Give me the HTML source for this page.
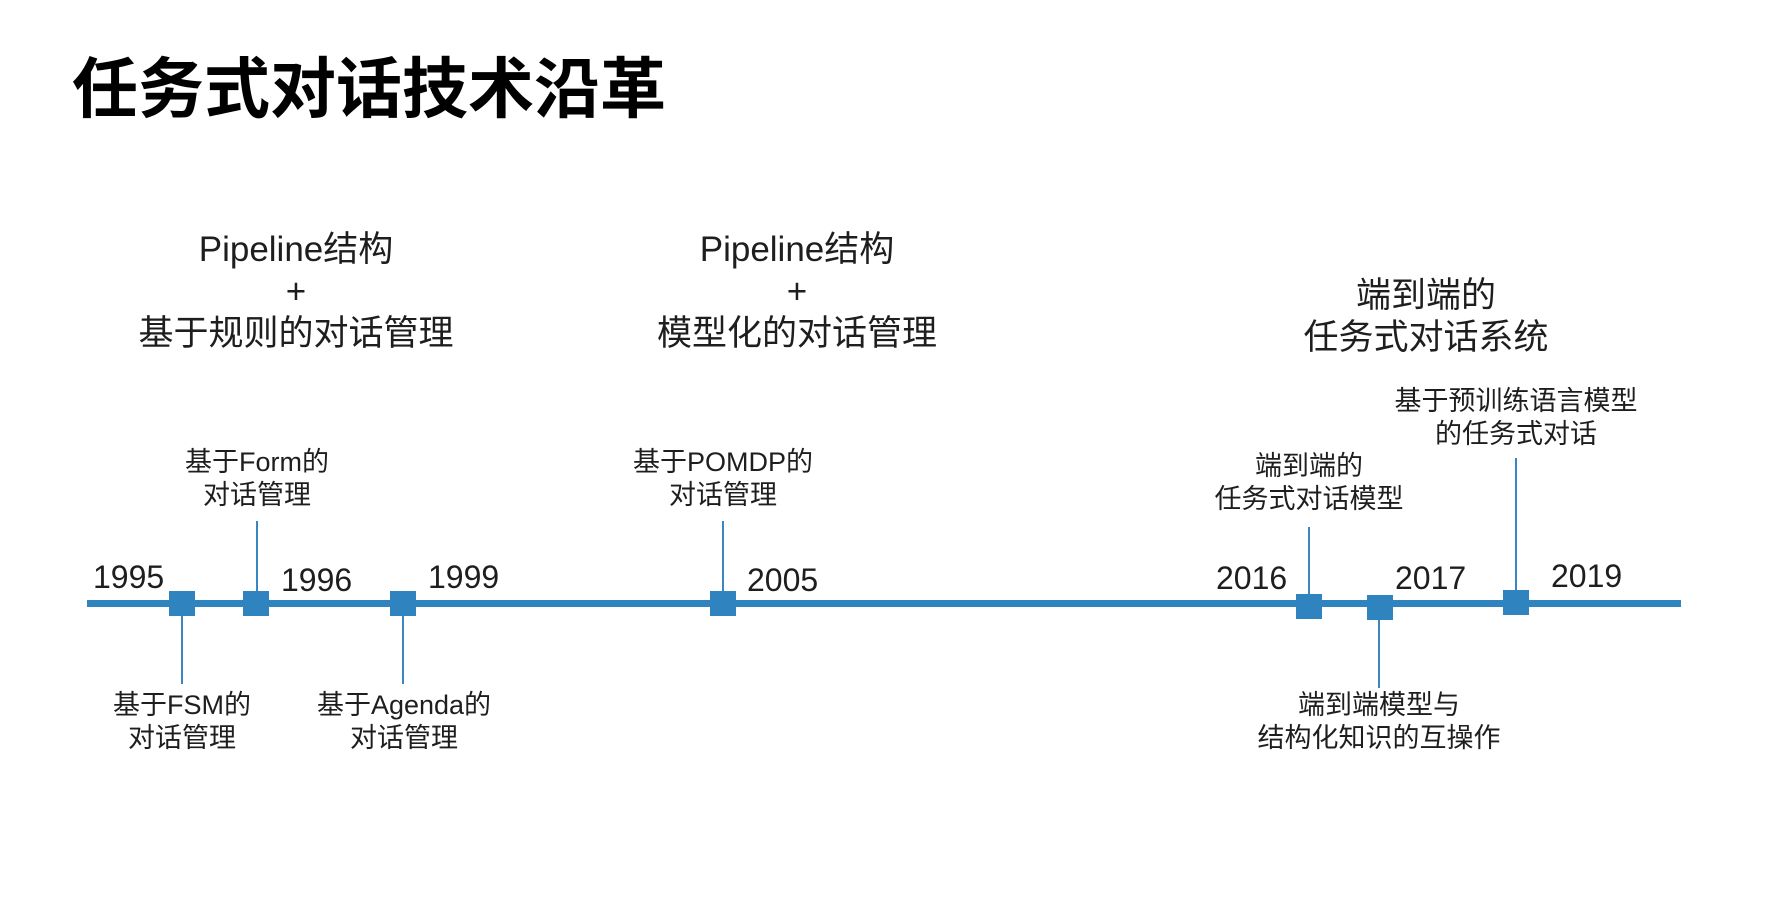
<!DOCTYPE html>
<html><head><meta charset="utf-8"><style>
body{margin:0;width:1784px;height:914px;background:#fff;position:relative;overflow:hidden;font-family:"Liberation Sans","Noto Sans CJK SC",sans-serif;color:#1e1e1e}
.t{position:absolute;transform:translateX(-50%);white-space:nowrap;text-align:center}
.h{font-size:35px;line-height:42px}
.l{font-size:27px;line-height:33px}
.y{position:absolute;font-size:32px;line-height:32px}
.sq{position:absolute;width:26px;height:25px;background:#2f84c0}
.v{position:absolute;width:2px;background:#3a86c0}
</style></head><body>
<div style="position:absolute;left:72px;top:43px;font-size:66px;font-weight:bold;line-height:82px;font-family:'Noto Sans CJK SC',sans-serif;color:#000">任务式对话技术沿革</div>

<div class="t h" style="left:296px;top:229px">Pipeline结构<br>+<br>基于规则的对话管理</div>
<div class="t h" style="left:797px;top:229px">Pipeline结构<br>+<br>模型化的对话管理</div>
<div class="t h" style="left:1426px;top:275px">端到端的<br>任务式对话系统</div>

<div style="position:absolute;left:87px;top:600px;width:1594px;height:7px;background:#2f84c0"></div>

<div class="v" style="left:256px;top:521px;height:75px"></div>
<div class="v" style="left:722px;top:521px;height:75px"></div>
<div class="v" style="left:1308px;top:527px;height:70px"></div>
<div class="v" style="left:1515px;top:458px;height:135px"></div>
<div class="v" style="left:181px;top:612px;height:72px"></div>
<div class="v" style="left:402px;top:612px;height:72px"></div>
<div class="v" style="left:1378px;top:616px;height:72px"></div>

<div class="sq" style="left:169px;top:591px"></div>
<div class="sq" style="left:243px;top:591px"></div>
<div class="sq" style="left:390px;top:591px"></div>
<div class="sq" style="left:710px;top:591px"></div>
<div class="sq" style="left:1296px;top:594px"></div>
<div class="sq" style="left:1367px;top:595px"></div>
<div class="sq" style="left:1503px;top:590px"></div>

<div class="y" style="left:93px;top:561px">1995</div>
<div class="y" style="left:281px;top:564px">1996</div>
<div class="y" style="left:428px;top:561px">1999</div>
<div class="y" style="left:747px;top:564px">2005</div>
<div class="y" style="left:1216px;top:562px">2016</div>
<div class="y" style="left:1395px;top:562px">2017</div>
<div class="y" style="left:1551px;top:560px">2019</div>

<div class="t l" style="left:257px;top:446px">基于Form的<br>对话管理</div>
<div class="t l" style="left:723px;top:446px">基于POMDP的<br>对话管理</div>
<div class="t l" style="left:1309px;top:450px">端到端的<br>任务式对话模型</div>
<div class="t l" style="left:1516px;top:385px">基于预训练语言模型<br>的任务式对话</div>
<div class="t l" style="left:182px;top:689px">基于FSM的<br>对话管理</div>
<div class="t l" style="left:404px;top:689px">基于Agenda的<br>对话管理</div>
<div class="t l" style="left:1379px;top:689px">端到端模型与<br>结构化知识的互操作</div>
</body></html>
